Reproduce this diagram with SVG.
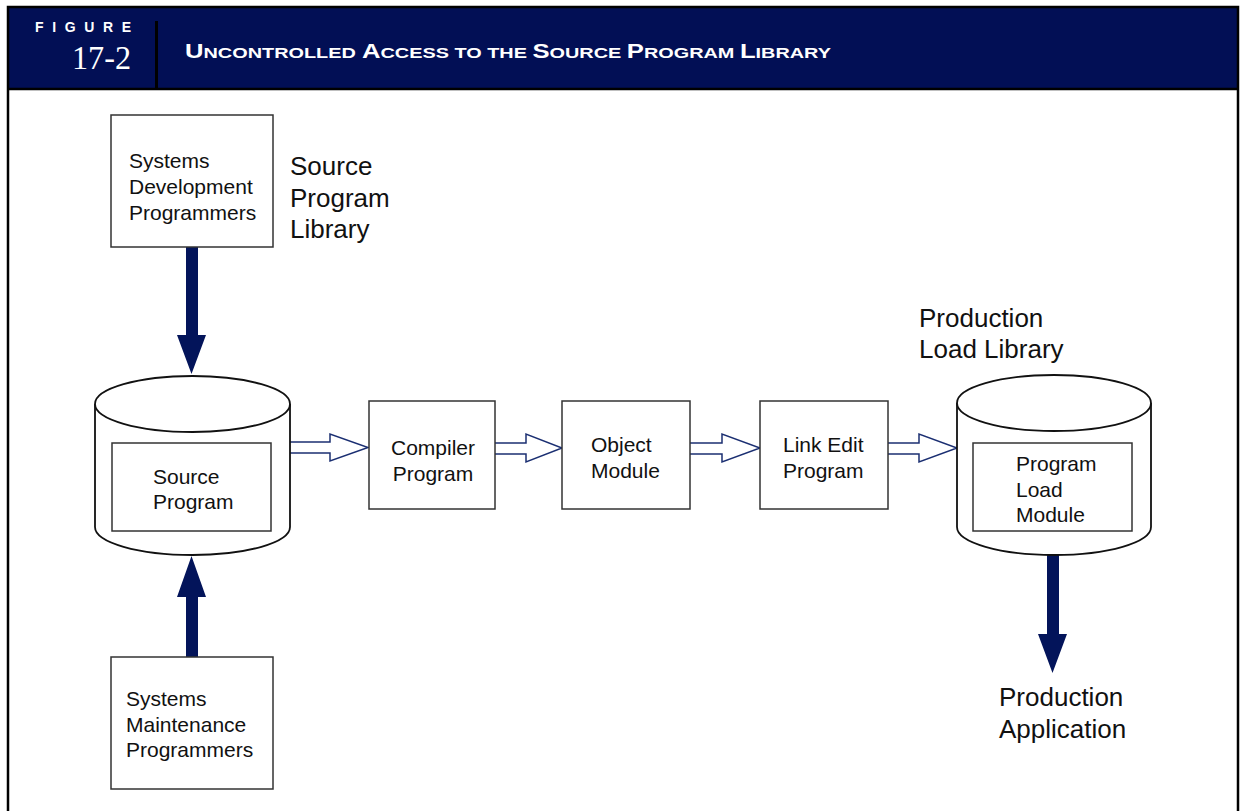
<svg xmlns="http://www.w3.org/2000/svg" width="1242" height="811" viewBox="0 0 1242 811">
<defs>
<style>
.box{fill:#fff;stroke:#333;stroke-width:1.5}
.cyl{fill:#fff;stroke:#111;stroke-width:1.8}
.t{font-family:"Liberation Sans",Arial,sans-serif;font-size:21px;fill:#111}
.tl{font-family:"Liberation Sans",Arial,sans-serif;font-size:26px;fill:#111}
.solid{fill:#03145a}
.hollow{fill:#fff;stroke:#1b2f72;stroke-width:1.5;stroke-linejoin:miter}
.hdr{font-family:"Liberation Sans",Arial,sans-serif;font-weight:bold;fill:#fff}
</style>
</defs>
<rect x="0" y="0" width="1242" height="811" fill="#fff"/>
<g id="frame">
<rect x="8" y="7" width="1230" height="82" fill="#020f55"/>
<path d="M8,811 V7 H1238 V811" fill="none" stroke="#000" stroke-width="2.5"/>
<line x1="8" y1="89" x2="1238" y2="89" stroke="#000" stroke-width="2.5"/>
<line x1="156.5" y1="21" x2="156.5" y2="89" stroke="#000" stroke-width="3"/>
<text class="hdr" x="35" y="32" font-size="14" textLength="96" lengthAdjust="spacing">FIGURE</text>
<text x="72" y="69" font-family="'Liberation Serif','Times New Roman',serif" font-size="33" fill="#fff" textLength="59" lengthAdjust="spacingAndGlyphs">17-2</text>
<text class="hdr" x="185" y="58" font-size="20" textLength="646" lengthAdjust="spacingAndGlyphs"><tspan>U</tspan><tspan font-size="15.5">NCONTROLLED</tspan> <tspan>A</tspan><tspan font-size="15.5">CCESS TO THE </tspan><tspan>S</tspan><tspan font-size="15.5">OURCE </tspan><tspan>P</tspan><tspan font-size="15.5">ROGRAM </tspan><tspan>L</tspan><tspan font-size="15.5">IBRARY</tspan></text>
</g>
<g id="connectors">
<path class="solid" d="M186,247 H198 V335 H206 L191.5,374 L177,335 H186 Z"/>
<path class="solid" d="M186,657 H198 V597 H206 L191.5,556 L177,597 H186 Z"/>
<path class="solid" d="M1047,555 H1059 V634 H1067 L1052.5,673 L1038,634 H1047 Z"/>
<path class="hollow" d="M290,442 H330 V434 L368,447.5 L330,461 V453 H290"/>
<path class="hollow" d="M495,443 H526 V434 L562,448 L526,462 V454 H495"/>
<path class="hollow" d="M690,443 H722 V434 L760,448 L722,462 V454 H690"/>
<path class="hollow" d="M888,443 H919 V434 L957,448 L919,462 V454 H888"/>
</g>
<g id="dev-programmers">
<rect class="box" x="111" y="115" width="162" height="132"/>
<text class="t" x="129" y="168">Systems</text>
<text class="t" x="129" y="194">Development</text>
<text class="t" x="129" y="220">Programmers</text>
</g>
<text class="tl" x="290" y="175">Source</text>
<text class="tl" x="290" y="207">Program</text>
<text class="tl" x="290" y="238">Library</text>
<g id="source-library">
<path class="cyl" d="M95,404 V527 A97.5,28 0 0 0 290,527 V404"/>
<ellipse class="cyl" cx="192.5" cy="404" rx="97.5" ry="28"/>
<rect class="box" x="112" y="443" width="159" height="88"/>
<text class="t" x="153" y="484">Source</text>
<text class="t" x="153" y="509">Program</text>
</g>
<g id="maint-programmers">
<rect class="box" x="111" y="657" width="162" height="132"/>
<text class="t" x="126" y="706">Systems</text>
<text class="t" x="126" y="732">Maintenance</text>
<text class="t" x="126" y="757">Programmers</text>
</g>
<g id="compiler">
<rect class="box" x="369" y="401" width="126" height="108"/>
<text class="t" x="433" y="455" text-anchor="middle">Compiler</text>
<text class="t" x="433" y="481" text-anchor="middle">Program</text>
</g>
<g id="object-module">
<rect class="box" x="562" y="401" width="128" height="108"/>
<text class="t" x="591" y="452">Object</text>
<text class="t" x="591" y="478">Module</text>
</g>
<g id="link-edit">
<rect class="box" x="760" y="401" width="128" height="108"/>
<text class="t" x="783" y="452">Link Edit</text>
<text class="t" x="783" y="478">Program</text>
</g>
<text class="tl" x="919" y="327">Production</text>
<text class="tl" x="919" y="358">Load Library</text>
<g id="load-library">
<path class="cyl" d="M957,403 V527 A97,28 0 0 0 1151,527 V403"/>
<ellipse class="cyl" cx="1054" cy="403" rx="97" ry="28"/>
<rect class="box" x="973" y="443" width="159" height="88"/>
<text class="t" x="1016" y="471">Program</text>
<text class="t" x="1016" y="497">Load</text>
<text class="t" x="1016" y="522">Module</text>
</g>
<g id="production-app">
<text class="tl" x="999" y="706">Production</text>
<text class="tl" x="999" y="738">Application</text>
</g>
</svg>
